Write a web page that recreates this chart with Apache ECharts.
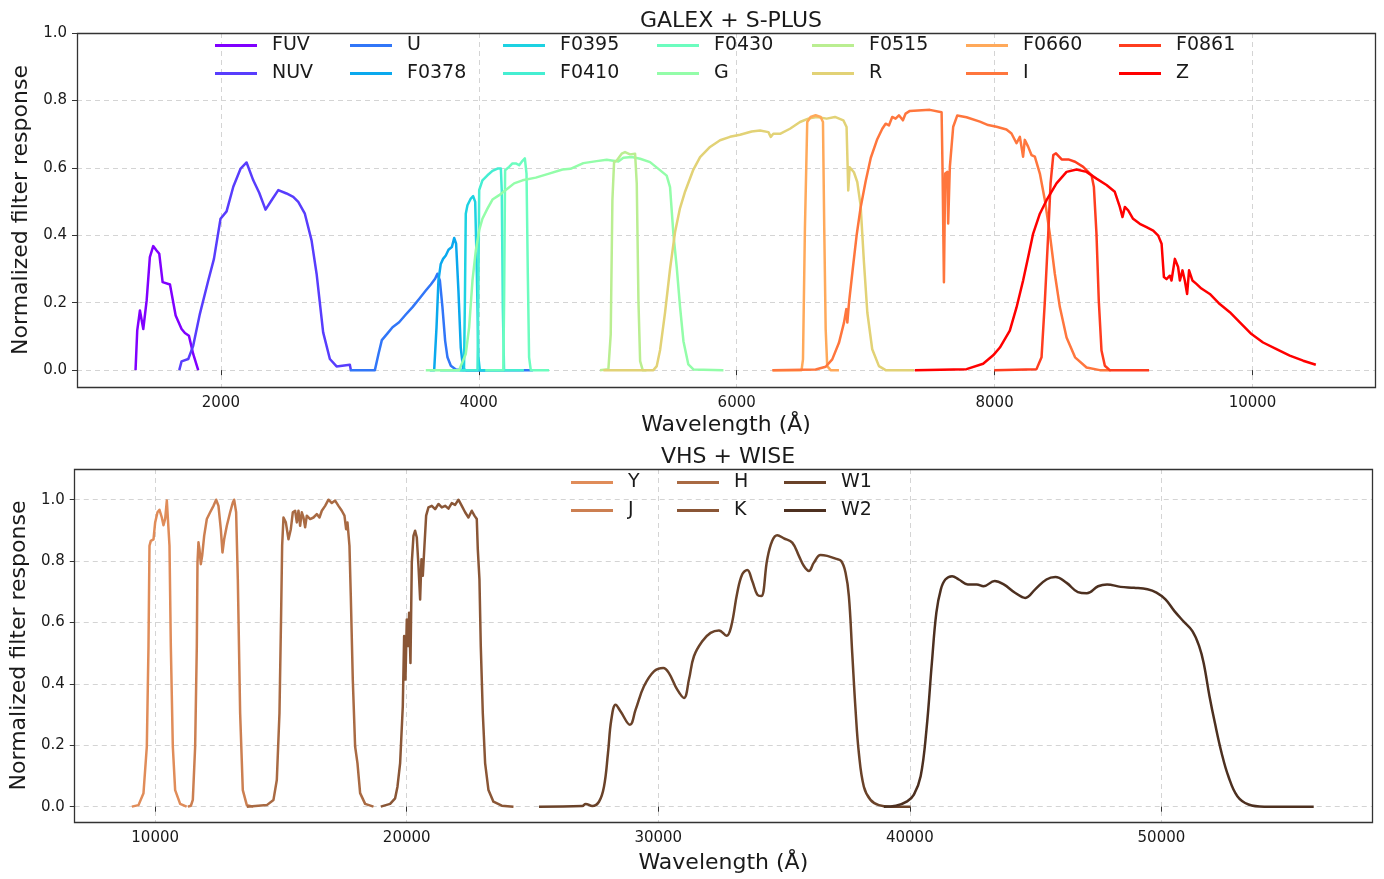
<!DOCTYPE html>
<html>
<head>
<meta charset="utf-8">
<title>Filter transmission curves</title>
<script src="https://cdn.jsdelivr.net/npm/echarts@6/dist/echarts.min.js"></script>
<style>
  html, body { margin: 0; padding: 0; background: #fff; }
  #main { width: 1384px; height: 879px; }
</style>
</head>
<body>
<div id="main"></div>
<script>
// ---- GALEX + S-PLUS filter curves: [wavelength (Å), normalized response] ----
const FUV = [[1338,0],[1351,0.117],[1372,0.177],[1398,0.122],[1424,0.206],[1449,0.335],[1475,0.368],[1501,0.355],[1522,0.345],[1548,0.261],[1605,0.254],[1649,0.162],[1695,0.122],[1721,0.110],[1752,0.102],[1785,0.048],[1824,0]];
const NUV = [[1677,0],[1695,0.026],[1747,0.033],[1785,0.072],[1837,0.167],[1902,0.266],[1946,0.330],[1997,0.449],[2044,0.471],[2096,0.544],[2153,0.598],[2199,0.616],[2251,0.563],[2297,0.526],[2346,0.476],[2393,0.504],[2445,0.534],[2509,0.524],[2561,0.514],[2600,0.499],[2651,0.464],[2703,0.385],[2742,0.286],[2793,0.112],[2845,0.033],[2897,0.011],[3000,0.016],[3008,0]];
const U = [[3000,0],[3194,0],[3222,0.048],[3248,0.089],[3292,0.109],[3331,0.127],[3382,0.142],[3434,0.165],[3486,0.187],[3537,0.211],[3589,0.236],[3628,0.254],[3661,0.271],[3679,0.286],[3698,0.266],[3718,0.187],[3739,0.087],[3757,0.038],[3783,0.013],[3822,0.002],[3900,0],[4420,0]];
const F0378 = [[3620,0],[3654,0],[3672,0.127],[3687,0.266],[3705,0.315],[3723,0.330],[3744,0.340],[3765,0.357],[3791,0.365],[3809,0.392],[3824,0.375],[3842,0.236],[3860,0.067],[3879,0.003],[3900,0],[4050,0]];
const F0395 = [[3700,0],[3885,0],[3892,0.2],[3899,0.464],[3912,0.489],[3938,0.509],[3956,0.516],[3972,0.499],[3985,0.286],[3997,0.038],[4008,0],[4200,0]];
const F0410 = [[3850,0],[3990,0],[3996,0.2],[4003,0.534],[4028,0.563],[4067,0.578],[4106,0.591],[4145,0.598],[4171,0.598],[4178,0.534],[4186,0.187],[4196,0],[4350,0]];
const F0430 = [[4050,0],[4190,0],[4196,0.2],[4204,0.593],[4235,0.603],[4261,0.613],[4287,0.613],[4313,0.608],[4339,0.621],[4357,0.628],[4370,0.583],[4380,0.286],[4390,0.038],[4403,0],[4545,0]];
const G = [[3589,0],[3847,0],[3899,0.048],[3925,0.127],[3951,0.266],[3977,0.355],[4003,0.415],[4028,0.449],[4067,0.479],[4106,0.506],[4158,0.519],[4209,0.534],[4274,0.554],[4339,0.563],[4442,0.571],[4545,0.583],[4649,0.595],[4711,0.597],[4811,0.614],[4914,0.620],[4992,0.624],[5082,0.619],[5121,0.630],[5186,0.632],[5251,0.627],[5328,0.617],[5393,0.597],[5457,0.577],[5483,0.543],[5509,0.404],[5535,0.305],[5561,0.186],[5587,0.086],[5625,0.017],[5664,0.002],[5897,0]];
const F0515 = [[4940,0],[5005,0.003],[5023,0.106],[5036,0.503],[5049,0.617],[5070,0.622],[5108,0.642],[5134,0.647],[5173,0.640],[5212,0.642],[5225,0.553],[5238,0.205],[5251,0.027],[5271,0],[5300,0]];
const R = [[4966,0],[5354,0],[5380,0.012],[5406,0.06],[5444,0.17],[5483,0.30],[5522,0.41],[5560,0.48],[5600,0.53],[5664,0.595],[5716,0.632],[5793,0.662],[5871,0.682],[5948,0.692],[6026,0.698],[6116,0.708],[6181,0.711],[6246,0.706],[6264,0.692],[6284,0.701],[6336,0.701],[6413,0.716],[6491,0.736],[6555,0.746],[6620,0.751],[6698,0.746],[6762,0.751],[6827,0.741],[6852,0.721],[6860,0.607],[6865,0.533],[6876,0.602],[6909,0.587],[6935,0.558],[6961,0.488],[6987,0.319],[7013,0.171],[7051,0.062],[7103,0.012],[7155,0],[7375,0]];
const F0660 = [[6280,0],[6503,0],[6514,0.032],[6529,0.419],[6547,0.736],[6573,0.751],[6612,0.756],[6651,0.751],[6669,0.736],[6679,0.419],[6690,0.121],[6702,0.012],[6728,0],[6793,0]];
const I = [[6276,0],[6612,0.002],[6690,0.01],[6741,0.032],[6793,0.081],[6832,0.141],[6850,0.181],[6858,0.141],[6871,0.2],[6900,0.30],[6930,0.40],[6960,0.48],[7000,0.56],[7040,0.63],[7090,0.685],[7129,0.716],[7155,0.731],[7181,0.726],[7206,0.751],[7232,0.746],[7258,0.756],[7289,0.741],[7310,0.761],[7343,0.769],[7498,0.772],[7589,0.765],[7596,0.603],[7607,0.261],[7617,0.583],[7633,0.588],[7640,0.435],[7653,0.603],[7679,0.722],[7710,0.755],[7782,0.750],[7886,0.737],[7950,0.727],[8015,0.722],[8092,0.714],[8131,0.702],[8170,0.673],[8196,0.692],[8221,0.633],[8234,0.683],[8260,0.663],[8286,0.638],[8312,0.633],[8351,0.583],[8390,0.504],[8428,0.405],[8467,0.286],[8506,0.187],[8558,0.097],[8624,0.038],[8713,0.008],[8816,0],[8900,0]];
const F0861 = [[7997,0],[8325,0.003],[8364,0.038],[8390,0.206],[8416,0.405],[8434,0.554],[8455,0.638],[8476,0.643],[8520,0.625],[8572,0.625],[8624,0.618],[8687,0.603],[8752,0.578],[8770,0.543],[8790,0.405],[8808,0.206],[8829,0.058],[8855,0.013],[8893,0],[9198,0]];
const Z = [[7381,0],[7782,0.003],[7911,0.019],[7989,0.044],[8041,0.067],[8118,0.117],[8170,0.186],[8221,0.266],[8260,0.335],[8299,0.405],[8351,0.464],[8403,0.504],[8480,0.554],[8558,0.588],[8635,0.595],[8713,0.588],[8790,0.568],[8868,0.549],[8932,0.529],[8971,0.484],[8992,0.454],[9010,0.484],[9036,0.474],[9074,0.449],[9126,0.434],[9178,0.424],[9230,0.414],[9269,0.399],[9295,0.375],[9313,0.276],[9333,0.270],[9359,0.280],[9372,0.266],[9398,0.330],[9423,0.306],[9437,0.266],[9457,0.296],[9475,0.266],[9493,0.226],[9508,0.296],[9534,0.266],[9565,0.256],[9604,0.242],[9669,0.226],[9746,0.196],[9824,0.172],[9902,0.142],[9992,0.107],[10082,0.082],[10186,0.062],[10289,0.043],[10393,0.028],[10491,0.016]];

// ---- VHS + WISE filter curves ----
const Yb = [[9073,0],[9338,0.005],[9536,0.044],[9669,0.196],[9735,0.523],[9775,0.850],[9828,0.866],[9934,0.871],[10000,0.926],[10093,0.959],[10172,0.967],[10265,0.942],[10331,0.917],[10397,0.937],[10464,0.997],[10530,0.991],[10570,0.850],[10623,0.523],[10702,0.196],[10795,0.054],[10994,0.009],[11250,0]];
const Jb = [[11300,0],[11420,0.003],[11497,0.022],[11590,0.196],[11656,0.523],[11683,0.795],[11722,0.861],[11762,0.839],[11815,0.790],[11868,0.817],[11948,0.882],[12054,0.937],[12186,0.959],[12319,0.980],[12425,1.0],[12517,0.980],[12610,0.904],[12676,0.828],[12743,0.871],[12849,0.915],[12981,0.959],[13087,0.991],[13140,1.0],[13219,0.959],[13286,0.741],[13378,0.305],[13484,0.054],[13643,0.005],[13900,0]];
const Hb = [[13643,0],[14438,0.005],[14703,0.022],[14836,0.087],[14942,0.305],[15008,0.632],[15048,0.850],[15101,0.942],[15194,0.926],[15300,0.871],[15393,0.904],[15472,0.959],[15564,0.964],[15631,0.926],[15697,0.964],[15763,0.915],[15829,0.959],[15896,0.942],[15962,0.910],[16028,0.948],[16161,0.937],[16293,0.942],[16426,0.953],[16532,0.942],[16625,0.964],[16757,0.980],[16889,1.0],[17022,0.989],[17154,0.997],[17287,0.980],[17419,0.964],[17525,0.948],[17591,0.904],[17644,0.926],[17724,0.850],[17777,0.686],[17856,0.414],[17949,0.196],[18042,0.142],[18148,0.044],[18347,0.009],[18678,0]];
const Kb = [[18969,0],[19340,0.009],[19539,0.027],[19632,0.065],[19738,0.142],[19844,0.327],[19897,0.556],[19950,0.414],[20003,0.610],[20056,0.523],[20095,0.632],[20149,0.468],[20202,0.795],[20268,0.882],[20334,0.899],[20401,0.877],[20467,0.784],[20533,0.675],[20586,0.806],[20639,0.752],[20705,0.850],[20772,0.948],[20864,0.975],[20997,0.980],[21129,0.969],[21262,0.986],[21394,0.975],[21526,0.980],[21659,0.971],[21791,0.989],[21924,0.983],[22056,1.0],[22189,0.980],[22321,0.959],[22454,0.942],[22586,0.964],[22692,0.948],[22785,0.937],[22825,0.839],[22891,0.741],[22944,0.523],[23024,0.305],[23116,0.142],[23249,0.054],[23447,0.016],[23779,0.003],[24243,0]];
const W1 = [[25258,0],[26980,0.002],[27113,0.009],[27377,0.002],[27642,0.016],[27841,0.065],[28000,0.174],[28132,0.283],[28305,0.332],[28503,0.310],[28874,0.267],[29099,0.316],[29430,0.392],[29828,0.441],[30199,0.452],[30424,0.435],[30755,0.381],[31020,0.354],[31219,0.414],[31417,0.490],[31748,0.539],[32079,0.566],[32411,0.574],[32715,0.557],[32901,0.588],[33139,0.697],[33338,0.757],[33536,0.771],[33735,0.735],[33934,0.691],[34093,0.686],[34331,0.806],[34530,0.866],[34728,0.884],[34993,0.874],[35325,0.860],[35589,0.817],[35788,0.784],[35987,0.768],[36185,0.795],[36450,0.820],[36715,0.817],[37046,0.808],[37272,0.800],[37444,0.762],[37576,0.686],[37709,0.501],[37841,0.316],[37974,0.174],[38172,0.065],[38437,0.022],[38768,0.005],[39232,0],[40026,0]];
const W2 = [[38967,0],[39446,0.003],[39893,0.017],[40161,0.039],[40429,0.099],[40661,0.251],[40875,0.468],[41054,0.632],[41232,0.708],[41411,0.740],[41679,0.751],[41946,0.740],[42304,0.724],[42661,0.724],[42929,0.718],[43375,0.735],[43732,0.724],[44179,0.697],[44589,0.680],[44982,0.708],[45429,0.740],[45786,0.748],[46232,0.729],[46679,0.699],[47036,0.695],[47482,0.718],[47839,0.724],[48375,0.716],[48911,0.713],[49446,0.708],[49804,0.697],[50161,0.675],[50518,0.637],[50875,0.604],[51232,0.572],[51500,0.523],[51679,0.468],[51911,0.360],[52125,0.273],[52393,0.175],[52661,0.099],[53018,0.034],[53464,0.007],[54089,0],[56054,0]];

const topNames = ['FUV','NUV','U','F0378','F0395','F0410','F0430','G','F0515','R','F0660','I','F0861','Z'];
const topCurves = [FUV, NUV, U, F0378, F0395, F0410, F0430, G, F0515, R, F0660, I, F0861, Z];
const botNames = ['Y','J','H','K','W1','W2'];
const botCurves = [Yb, Jb, Hb, Kb, W1, W2];

const yTicks = [0, 0.2, 0.4, 0.6, 0.8, 1.0];
const xTicksTop = [2000, 4000, 6000, 8000, 10000];
const xTicksBot = [10000, 20000, 30000, 40000, 50000];

// rainbow colormap sampled at 14 evenly spaced points
const topColors = ['#8000ff','#583dfd','#3176f8','#0aa9ee','#1dd2e2','#45eed2','#6cfdbf',
                   '#93fda9','#baee91','#e2d276','#ffa95a','#ff763d','#ff3d1f','#ff0000'];
// copper tones for the near/mid-infrared bands
const botColors = ['#e08c59','#cc7f51','#a96a43','#8a5636','#6a4229','#4d3020'];

const FONT = 'DejaVu Sans, Liberation Sans, sans-serif';
const TXT = '#1a1a1a';
const LW = 2.5;

function makeX(grid, min, max, ticks, gap) {
  return {
    type: 'value', gridIndex: grid, min: min, max: max,
    name: 'Wavelength (Å)', nameLocation: 'middle', nameGap: gap,
    nameTextStyle: { fontSize: 22, color: TXT, fontFamily: FONT },
    axisLine: { show: false },
    axisTick: { show: true, customValues: ticks, length: 5, lineStyle: { color: '#333' } },
    axisLabel: { customValues: ticks, fontSize: 15, color: TXT, fontFamily: FONT, margin: 9,
                 formatter: v => String(v) },
    splitLine: { show: true, lineStyle: { color: '#d4d4d4', type: [5, 4], width: 1 } }
  };
}
function makeY(grid, min, max) {
  return {
    type: 'value', gridIndex: grid, min: min, max: max,
    name: 'Normalized filter response', nameLocation: 'middle', nameGap: 42,
    nameTextStyle: { fontSize: 22, color: TXT, fontFamily: FONT },
    axisLine: { show: false },
    axisTick: { show: true, customValues: yTicks, length: 5, lineStyle: { color: '#333' } },
    axisLabel: { customValues: yTicks, fontSize: 15, color: TXT, fontFamily: FONT, margin: 10,
                 formatter: v => v.toFixed(1) },
    splitLine: { show: true, lineStyle: { color: '#d4d4d4', type: [5, 4], width: 1 } }
  };
}

const series = [];
topNames.forEach((n, i) => series.push({
  name: n, type: 'line', xAxisIndex: 0, yAxisIndex: 0, data: topCurves[i],
  showSymbol: false, symbol: 'none', color: topColors[i],
  lineStyle: { width: LW, color: topColors[i], join: 'round' }, silent: true
}));
botNames.forEach((n, i) => series.push({
  name: n, type: 'line', xAxisIndex: 1, yAxisIndex: 1, data: botCurves[i],
  showSymbol: false, symbol: 'none', color: botColors[i],
  smooth: i >= 4 ? 0.4 : false,
  lineStyle: { width: LW, color: botColors[i], join: 'round' }, silent: true
}));

// legend entries laid out column by column (two rows each)
const legends = [];
const topCols = [215, 350, 503, 657, 812, 966, 1119];
const topRows = [36, 64];
topNames.forEach((n, i) => legends.push({
  data: [n], left: topCols[Math.floor(i / 2)], top: topRows[i % 2]
}));
const botCols = [571, 677, 784];
const botRows = [473, 501];
botNames.forEach((n, i) => legends.push({
  data: [n], left: botCols[Math.floor(i / 2)], top: botRows[i % 2]
}));
legends.forEach(l => Object.assign(l, {
  padding: 0, itemWidth: 42, itemHeight: 3, icon: 'rect', selectedMode: false,
  textStyle: { fontSize: 19, color: TXT, fontFamily: FONT, padding: [0, 0, 0, 10] }
}));

// plot frames drawn above the dashed grid lines
const frames = [
  { x: 77, y: 33, w: 1298, h: 354 },
  { x: 74, y: 469, w: 1298, h: 353 }
].map(f => ({
  type: 'rect', z: 100, silent: true,
  shape: { x: f.x + 0.5, y: f.y + 0.5, width: f.w, height: f.h },
  style: { fill: null, stroke: '#333', lineWidth: 1.3 }
}));

const option = {
  animation: false,
  backgroundColor: '#ffffff',
  title: [
    { text: 'GALEX + S-PLUS', left: 726, top: 5, textAlign: 'center',
      textStyle: { fontSize: 22, fontWeight: 'normal', color: TXT, fontFamily: FONT } },
    { text: 'VHS + WISE', left: 723, top: 441, textAlign: 'center',
      textStyle: { fontSize: 22, fontWeight: 'normal', color: TXT, fontFamily: FONT } }
  ],
  legend: legends,
  graphic: frames,
  grid: [
    { left: 77, top: 33, width: 1298, height: 354 },
    { left: 74, top: 469, width: 1298, height: 353 }
  ],
  xAxis: [makeX(0, 884, 10950, xTicksTop, 27), makeX(1, 6804, 58371, xTicksBot, 30)],
  yAxis: [makeY(0, -0.05, 1.0), makeY(1, -0.05, 1.1)],
  series: series
};

const chart = echarts.init(document.getElementById('main'), null, { renderer: 'canvas' });
chart.setOption(option);
</script>
</body>
</html>
